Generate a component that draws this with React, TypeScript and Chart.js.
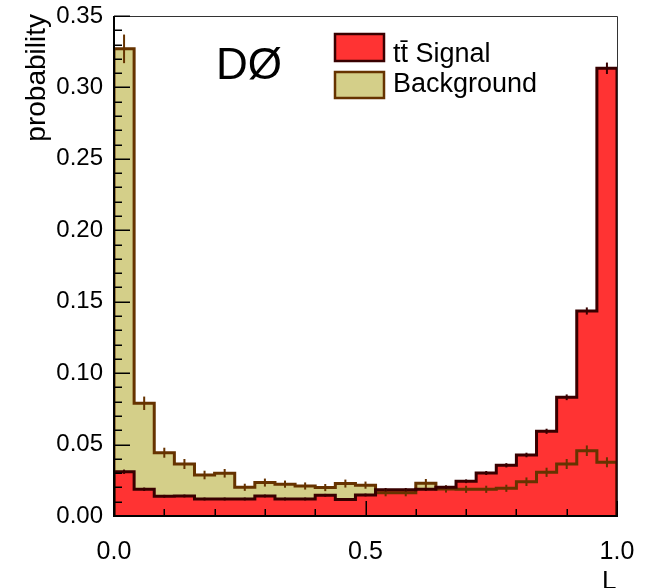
import React, { useEffect, useRef } from 'react';
import { Chart, registerables } from 'chart.js';

Chart.register(...registerables);

// ---- data ----
const binEdges = [
  0.0, 0.04, 0.08, 0.12, 0.16, 0.2, 0.24, 0.28, 0.32, 0.36, 0.4, 0.44, 0.48,
  0.52, 0.56, 0.6, 0.64, 0.68, 0.72, 0.76, 0.8, 0.84, 0.88, 0.92, 0.96, 1.0,
];

const signalValues = [
  0.031, 0.0187, 0.0138, 0.014, 0.0119, 0.0119, 0.0119, 0.014, 0.0119, 0.0119,
  0.0145, 0.0115, 0.0147, 0.0184, 0.0184, 0.0188, 0.0201, 0.0243, 0.0301,
  0.0355, 0.0427, 0.0593, 0.0831, 0.1435, 0.3134,
];
const signalErrors = [
  0.0015, 0.0012, 0.001, 0.001, 0.001, 0.001, 0.001, 0.001, 0.001, 0.001,
  0.001, 0.001, 0.001, 0.0012, 0.0012, 0.0012, 0.0012, 0.0013, 0.0014,
  0.0015, 0.0016, 0.0018, 0.002, 0.0025, 0.004,
];

const backgroundValues = [
  0.327, 0.0789, 0.0443, 0.0364, 0.0287, 0.0299, 0.0201, 0.0234, 0.0223,
  0.021, 0.0199, 0.0227, 0.0216, 0.0163, 0.0163, 0.0229, 0.0189, 0.0187,
  0.0187, 0.0194, 0.024, 0.0306, 0.0364, 0.0457, 0.0376,
];
const backgroundErrors = [
  0.01, 0.0047, 0.0035, 0.0035, 0.003, 0.003, 0.0025, 0.0028, 0.0025, 0.0025,
  0.0025, 0.0028, 0.0025, 0.0025, 0.0025, 0.003, 0.0025, 0.0025, 0.0025,
  0.0025, 0.003, 0.0032, 0.0035, 0.0037, 0.0035,
];

const yMajorTicks = [0, 0.05, 0.1, 0.15, 0.2, 0.25, 0.3, 0.35];
const yMinorTicks = [
  0.01, 0.02, 0.03, 0.04, 0.06, 0.07, 0.08, 0.09, 0.11, 0.12, 0.13, 0.14,
  0.16, 0.17, 0.18, 0.19, 0.21, 0.22, 0.23, 0.24, 0.26, 0.27, 0.28, 0.29,
  0.31, 0.32, 0.33, 0.34,
];
const xMajorTicks = [0, 0.5, 1.0];
const xMinorTicks = [0.1, 0.2, 0.3, 0.4, 0.6, 0.7, 0.8, 0.9];

const legendLabels = ['t\u0074\u0304 Signal', 'Background'];
const experimentLabel = 'D\u00D8';
const yTitle = 'probability';
const xTitle = 'L';

// ---- styles ----
const FONT = "'Liberation Sans', Arial, Helvetica, sans-serif";
const SIG_FILL = '#ff3333';
const SIG_LINE = '#380000';
const BG_FILL = '#d4cf89';
const BG_LINE = '#663300';

function histPoints(values: number[]) {
  const pts: { x: number; y: number }[] = [{ x: binEdges[0], y: 0 }];
  values.forEach((v, i) => pts.push({ x: binEdges[i], y: v }));
  pts.push({ x: binEdges[binEdges.length - 1], y: values[values.length - 1] });
  pts.push({ x: binEdges[binEdges.length - 1], y: 0 });
  return pts;
}

const decorPlugin = {
  id: 'decor',
  afterDatasetsDraw(chart: any) {
    const { ctx, scales } = chart;
    const x = scales.x;
    const y = scales.y;
    const drawErr = (vals: number[], errs: number[], color: string) => {
      ctx.save();
      ctx.strokeStyle = color;
      ctx.lineWidth = 2;
      vals.forEach((v, i) => {
        const cx = x.getPixelForValue((binEdges[i] + binEdges[i + 1]) / 2);
        const y1 = y.getPixelForValue(v - errs[i]);
        const y2 = y.getPixelForValue(v + errs[i]);
        ctx.beginPath();
        ctx.moveTo(cx, y1);
        ctx.lineTo(cx, y2);
        ctx.stroke();
      });
      ctx.restore();
    };
    drawErr(backgroundValues, backgroundErrors, BG_LINE);
    drawErr(signalValues, signalErrors, SIG_LINE);
  },
  afterDraw(chart: any) {
    const { ctx, chartArea, scales } = chart;
    const x = scales.x;
    const y = scales.y;
    const { left, right, top, bottom } = chartArea;
    ctx.save();
    // frame
    ctx.strokeStyle = '#333';
    ctx.lineWidth = 1;
    ctx.beginPath();
    ctx.moveTo(left, top + 0.5);
    ctx.lineTo(right + 0.5, top + 0.5);
    ctx.lineTo(right + 0.5, bottom);
    ctx.stroke();
    ctx.strokeStyle = '#000';
    ctx.lineWidth = 2;
    ctx.beginPath();
    ctx.moveTo(left, top);
    ctx.lineTo(left, bottom);
    ctx.lineTo(right + 1, bottom);
    ctx.stroke();
    // ticks
    ctx.lineWidth = 1.5;
    ctx.beginPath();
    yMajorTicks.forEach((t) => {
      const py = Math.round(y.getPixelForValue(t)) + 0.25;
      ctx.moveTo(left, py);
      ctx.lineTo(left + 16, py);
    });
    yMinorTicks.forEach((t) => {
      const py = Math.round(y.getPixelForValue(t)) + 0.25;
      ctx.moveTo(left, py);
      ctx.lineTo(left + 8, py);
    });
    xMajorTicks.forEach((t) => {
      const px = Math.round(x.getPixelForValue(t)) + 0.25;
      ctx.moveTo(px, bottom);
      ctx.lineTo(px, bottom - 15);
    });
    xMinorTicks.forEach((t) => {
      const px = Math.round(x.getPixelForValue(t)) + 0.25;
      ctx.moveTo(px, bottom);
      ctx.lineTo(px, bottom - 7);
    });
    ctx.stroke();

    // texts
    ctx.fillStyle = '#000';
    ctx.textBaseline = 'alphabetic';
    ctx.font = `44px ${FONT}`;
    ctx.textAlign = 'left';
    ctx.fillText(experimentLabel, 216, 79);

    // legend
    const boxX = 335;
    const boxW = 49;
    const entries = [
      { fill: SIG_FILL, line: SIG_LINE, y0: 34, h: 27, base: 62 },
      { fill: BG_FILL, line: BG_LINE, y0: 72, h: 26, base: 92 },
    ];
    entries.forEach((e, i) => {
      ctx.fillStyle = e.fill;
      ctx.fillRect(boxX, e.y0, boxW, e.h);
      ctx.strokeStyle = e.line;
      ctx.lineWidth = 2.5;
      ctx.strokeRect(boxX, e.y0, boxW, e.h);
      ctx.fillStyle = '#000';
      ctx.font = `27px ${FONT}`;
      ctx.textAlign = 'left';
      ctx.fillText(legendLabels[i], 393, e.base);
    });

    // y title
    ctx.save();
    ctx.translate(45, 14);
    ctx.rotate(-Math.PI / 2);
    ctx.font = `28px ${FONT}`;
    ctx.textAlign = 'right';
    ctx.fillStyle = '#000';
    ctx.fillText(yTitle, 0, 0);
    ctx.restore();

    // x title
    ctx.font = `26px ${FONT}`;
    ctx.textAlign = 'left';
    ctx.fillStyle = '#000';
    ctx.fillText(xTitle, 602, 589);
    ctx.restore();
  },
};

export default function App() {
  const canvasRef = useRef<HTMLCanvasElement | null>(null);

  useEffect(() => {
    document.body.style.margin = '0';
    const canvas = canvasRef.current;
    if (!canvas) return;
    const chart = new Chart(canvas, {
      type: 'line',
      data: {
        datasets: [
          {
            label: 'signal line',
            data: histPoints(signalValues),
            stepped: 'before',
            borderColor: SIG_LINE,
            borderWidth: 3,
            backgroundColor: 'transparent',
            fill: false,
            pointRadius: 0,
            order: 0,
          },
          {
            label: 'background line',
            data: histPoints(backgroundValues),
            stepped: 'before',
            borderColor: BG_LINE,
            borderWidth: 3,
            backgroundColor: 'transparent',
            fill: false,
            pointRadius: 0,
            order: 1,
          },
          {
            label: 'signal fill',
            data: histPoints(signalValues),
            stepped: 'before',
            borderWidth: 0,
            borderColor: 'transparent',
            backgroundColor: SIG_FILL,
            fill: 'origin',
            pointRadius: 0,
            order: 2,
          },
          {
            label: 'background fill',
            data: histPoints(backgroundValues),
            stepped: 'before',
            borderWidth: 0,
            borderColor: 'transparent',
            backgroundColor: BG_FILL,
            fill: 'origin',
            pointRadius: 0,
            order: 3,
          },
        ],
      },
      options: {
        animation: false,
        responsive: false,
        devicePixelRatio: 1,
        layout: { padding: { top: 16, right: 28, left: 0, bottom: 0 } },
        plugins: {
          legend: { display: false },
          tooltip: { enabled: false },
        },
        scales: {
          x: {
            type: 'linear',
            min: 0,
            max: 1,
            grid: { display: false, drawTicks: false },
            border: { display: false },
            ticks: {
              stepSize: 0.5,
              autoSkip: false,
              maxRotation: 0,
              padding: 21,
              color: '#000',
              font: { size: 25, family: FONT },
              callback: (v: any) => Number(v).toFixed(1),
            },
            afterFit: (s: any) => {
              s.height = 72;
              s.paddingLeft = 0;
              s.paddingRight = 0;
              s.paddingTop = 0;
              s.paddingBottom = 0;
            },
          },
          y: {
            type: 'linear',
            min: 0,
            max: 0.35,
            grid: { display: false, drawTicks: false },
            border: { display: false },
            ticks: {
              stepSize: 0.05,
              padding: 11,
              color: '#000',
              font: { size: 24, family: FONT },
              callback: (v: any) => Number(v).toFixed(2),
            },
            afterFit: (s: any) => {
              s.width = 114;
              s.paddingLeft = 0;
              s.paddingRight = 0;
              s.paddingTop = 0;
              s.paddingBottom = 0;
            },
          },
        },
      },
      plugins: [decorPlugin],
    });
    return () => chart.destroy();
  }, []);

  return (
    <div style={{ width: 645, height: 588 }}>
      <canvas ref={canvasRef} width={645} height={588} />
    </div>
  );
}
